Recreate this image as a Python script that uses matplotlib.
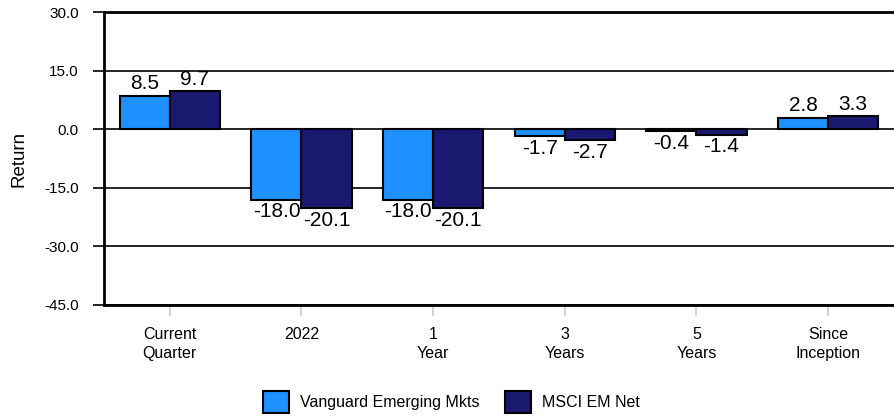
import numpy as np
import matplotlib.pyplot as plt

plt.rcParams['font.family'] = ['Liberation Sans', 'DejaVu Sans']

# data
categories = ['Current\nQuarter', '2022', '1\nYear', '3\nYears', '5\nYears', 'Since\nInception']
vanguard = [8.5, -18.0, -18.0, -1.7, -0.4, 2.8]
msci = [9.7, -20.1, -20.1, -2.7, -1.4, 3.3]
series_names = ['Vanguard Emerging Mkts', 'MSCI EM Net']
yticks = [-45.0, -30.0, -15.0, 0.0, 15.0, 30.0]

fig = plt.figure(figsize=(8.94, 4.17), dpi=100)
ax = fig.add_axes([0.1163, 0.2686, 0.8837, 0.7026])

x = np.arange(len(categories))
w = 0.38
b1 = ax.bar(x - w / 2, vanguard, w, color='#1E90FF', edgecolor='black', linewidth=1.5,
            label=series_names[0], zorder=3)
b2 = ax.bar(x + w / 2, msci, w, color='#191970', edgecolor='black', linewidth=1.5,
            label=series_names[1], zorder=3)

# value labels
for bars, vals in [(b1, vanguard), (b2, msci)]:
    for rect, v in zip(bars, vals):
        cx = rect.get_x() + rect.get_width() / 2
        if v >= 0:
            ax.annotate(f'{v:.1f}', (cx, v), xytext=(0, 2), textcoords='offset points',
                        ha='center', va='bottom', fontsize=15)
        else:
            ax.annotate(f'{v:.1f}', (cx, v), xytext=(0, -2), textcoords='offset points',
                        ha='center', va='top', fontsize=15)

ax.set_ylim(-45, 30)
ax.set_xlim(-0.5, 5.5)
ax.set_yticks(yticks)
ax.set_yticklabels([f'{t:.1f}' for t in yticks], fontsize=11)
ax.set_xticks(x)
ax.set_xticklabels(categories, fontsize=11.5, linespacing=1.3)

ax.grid(which='major', axis='y', color='black', linewidth=1.2, zorder=1)
ax.spines['right'].set_visible(False)
for s in ['left', 'bottom', 'top']:
    ax.spines[s].set_linewidth(2)
ax.tick_params(axis='y', length=8, width=1.2, color='black', pad=10)
ax.tick_params(axis='x', length=8, width=1.2, color='#cccccc', pad=8)

ax.set_ylabel('Return', fontsize=13.5, labelpad=12)

ax.legend(loc='upper center', bbox_to_anchor=(0.44, -0.245), ncol=2, frameon=False,
          fontsize=11.5, handlelength=1.6, handleheight=1.7, columnspacing=1.6,
          handletextpad=0.7)

plt.savefig('out.png', dpi=100)
